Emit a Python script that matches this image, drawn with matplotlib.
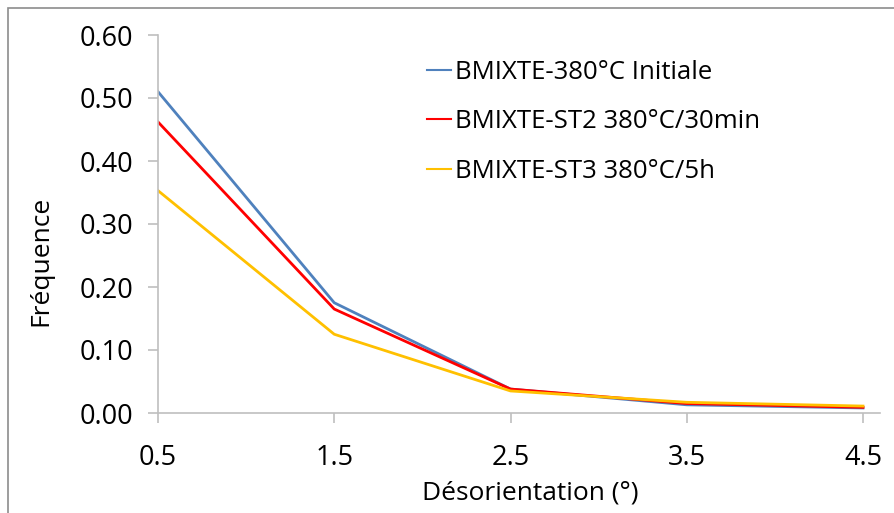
import matplotlib
matplotlib.use("Agg")
import matplotlib.pyplot as plt
from matplotlib.patches import Rectangle

plt.rcParams['font.family'] = ['Open Sans', 'DejaVu Sans']

desorientation = [0.5, 1.5, 2.5, 3.5, 4.5]
initiale = [0.510, 0.175, 0.038, 0.013, 0.008]
st2_30min = [0.462, 0.165, 0.038, 0.015, 0.009]
st3_5h = [0.353, 0.125, 0.035, 0.017, 0.011]
labels = ['BMIXTE-380°C Initiale', 'BMIXTE-ST2 380°C/30min', 'BMIXTE-ST3 380°C/5h']
colors = ['#4f81bd', '#ff0000', '#ffc000']

fig = plt.figure(figsize=(8.94, 5.13), dpi=100)
ax = fig.add_axes([158 / 894, 1 - 413 / 513, (880 - 158) / 894, (413 - 35) / 513])

for vals, lab, c in zip([initiale, st2_30min, st3_5h], labels, colors):
    ax.plot(desorientation, vals, color=c, lw=2, label=lab)

ax.set_xlim(0.5, 4.5 + 17 / 176.25)
ax.set_ylim(0, 0.6)
ax.set_xticks(desorientation)
ax.set_xticklabels(['0.5', '1.5', '2.5', '3.5', '4.5'])
ax.set_yticks([0, 0.1, 0.2, 0.3, 0.4, 0.5, 0.6])
ax.set_yticklabels(['%.2f' % v for v in [0, 0.1, 0.2, 0.3, 0.4, 0.5, 0.6]])
ax.tick_params(labelsize=19.5, color='#bfbfbf', length=7, width=1.2)
ax.tick_params(axis='y', pad=11)
ax.tick_params(axis='x', pad=15)
for s in ['top', 'right']:
    ax.spines[s].set_visible(False)
for s in ['left', 'bottom']:
    ax.spines[s].set_color('#bfbfbf')
    ax.spines[s].set_linewidth(1.2)

ax.set_xlabel('Désorientation (°)', fontsize=19)
ax.set_ylabel('Fréquence', fontsize=19)
ax.xaxis.set_label_coords(0.5 + (530 - 519) / 722, -(481 - 413) / 378)
ax.yaxis.set_label_coords((53 - 158) / 722, 0.5 - (261 - 224) / 378)

leg = ax.legend(loc='upper left', bbox_to_anchor=((427 - 158) / 722, 1 - (60 - 35) / 378),
                frameon=False, fontsize=18.5, handlelength=0.95, handletextpad=0.15,
                labelspacing=0.95, borderaxespad=0, borderpad=0)
for h in leg.get_lines():
    h.set_linewidth(1.5)

fig.patches.append(Rectangle((8 / 894, -0.1), 1.2, 1 - 8 / 513 + 0.1,
                             transform=fig.transFigure, fill=False,
                             edgecolor='#8c8c8c', lw=1.2))

fig.savefig('out.png', dpi=100)
